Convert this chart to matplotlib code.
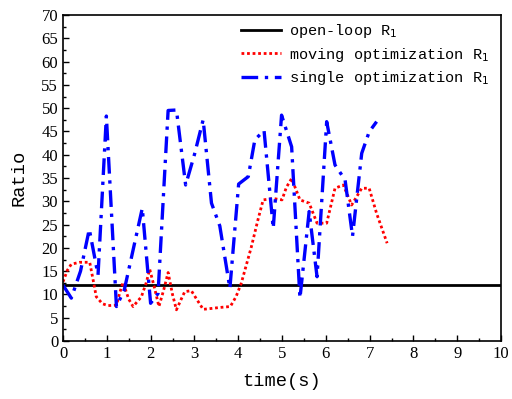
import matplotlib
matplotlib.use("Agg")
import matplotlib.pyplot as plt
from matplotlib.ticker import MultipleLocator

open_loop_t = [0, 10]
open_loop_v = [12, 12]

moving_t = [0, 0.1, 0.19, 0.38, 0.61, 0.68, 0.76, 0.9, 1.03, 1.22, 1.3, 1.37, 1.5, 1.6, 1.79, 1.9, 1.98,
            2.1, 2.19, 2.3, 2.4, 2.5, 2.59, 2.7, 2.78, 2.93, 3.05, 3.2, 3.4, 3.58, 3.82, 3.95, 4.07, 4.3,
            4.45, 4.57, 4.8, 5.0, 5.1, 5.22, 5.41, 5.62, 5.8, 6.02, 6.21, 6.4, 6.59, 6.82, 6.99, 7.16, 7.4]
moving_v = [12.7, 15.2, 16.5, 16.9, 16.9, 13.5, 9.5, 8.0, 7.6, 7.7, 10.5, 12.6, 9.0, 7.4, 9.5, 12.5, 15.4,
            11.0, 7.4, 11.0, 14.7, 10.0, 6.7, 9.0, 10.6, 10.8, 9.0, 6.8, 7.0, 7.2, 7.4, 9.5, 12.4, 20.2,
            26.0, 30.3, 30.6, 30.3, 33.0, 34.9, 30.3, 29.6, 25.3, 25.3, 32.8, 33.5, 29.2, 32.8, 32.8, 27.4, 21.0]

single_t = [0, 0.19, 0.4, 0.6, 0.8, 0.99, 1.22, 1.4, 1.81, 2.0, 2.17, 2.4, 2.59, 2.8, 3.0, 3.2, 3.39,
            3.58, 3.81, 4.01, 4.23, 4.38, 4.59, 4.8, 4.99, 5.22, 5.41, 5.62, 5.8, 6.02, 6.21, 6.44, 6.61,
            6.82, 6.99, 7.16]
single_v = [12.0, 9.2, 15.0, 24.0, 14.2, 48.3, 7.4, 11.0, 28.5, 8.1, 10.2, 49.5, 49.6, 33.5, 40.0, 47.5,
            29.6, 24.7, 11.3, 33.7, 35.3, 43.2, 45.2, 24.2, 48.5, 41.7, 9.2, 27.8, 13.8, 47.1, 37.8, 34.6,
            22.5, 40.3, 44.9, 47.1]

labels = ["open-loop R$_1$", "moving optimization R$_1$", "single optimization R$_1$"]

fig = plt.figure(figsize=(5.12, 3.99), dpi=100)
ax = fig.add_axes([63 / 512, 1 - 341 / 399, (501 - 63) / 512, (341 - 15) / 399])

ax.plot(open_loop_t, open_loop_v, color="black", lw=2.0, label=labels[0])
ax.plot(moving_t, moving_v, color="red", lw=2.0, linestyle=(0, (1, 1)), label=labels[1])
ax.plot(single_t, single_v, color="blue", lw=2.4, linestyle=(0, (5, 2, 1, 2)), label=labels[2])

ax.set_xlim(0, 10)
ax.set_ylim(0, 70)
ax.xaxis.set_major_locator(MultipleLocator(1))
ax.xaxis.set_minor_locator(MultipleLocator(0.5))
ax.yaxis.set_major_locator(MultipleLocator(5))
ax.yaxis.set_minor_locator(MultipleLocator(2.5))
ax.tick_params(which="both", direction="in", top=False, right=False, width=1)
ax.tick_params(which="major", length=4)
ax.tick_params(which="minor", length=2.5)
for lab in ax.get_xticklabels() + ax.get_yticklabels():
    lab.set_fontfamily("Liberation Serif")
    lab.set_fontsize(12)
for s in ax.spines.values():
    s.set_linewidth(1.2)

ax.set_xlabel("time(s)", fontfamily="Liberation Mono", fontsize=13.5, labelpad=8)
ax.set_ylabel("Ratio", fontfamily="Liberation Mono", fontsize=13.5, labelpad=10)

leg = ax.legend(loc="upper right", frameon=False, prop={"family": "Liberation Mono", "size": 11},
                handlelength=2.6, handletextpad=0.55, labelspacing=0.35,
                bbox_to_anchor=(1.005, 1.02))

fig.savefig("out.png", dpi=100)
